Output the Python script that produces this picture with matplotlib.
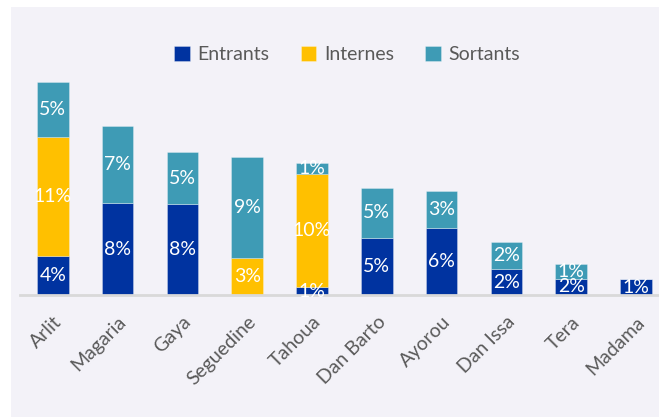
import matplotlib.pyplot as plt
from matplotlib.patches import Rectangle

# Data (percentages)
villes = ['Arlit', 'Magaria', 'Gaya', 'Seguedine', 'Tahoua', 'Dan Barto',
          'Ayorou', 'Dan Issa', 'Tera', 'Madama']
entrants = [3.6, 8.4, 8.3, 0, 0.75, 5.2, 6.1, 2.4, 1.52, 1.45]
internes = [10.8, 0, 0, 3.4, 10.3, 0, 0, 0, 0, 0]
sortants = [5.0, 7.0, 4.7, 9.2, 0.95, 4.6, 3.4, 2.45, 1.36, 0]

series = ['Entrants', 'Internes', 'Sortants']
colors = ['#0033A0', '#FFC000', '#3E9BB5']
bg = '#F3F2F8'

plt.rcParams['font.family'] = ['Lato', 'DejaVu Sans']

fig = plt.figure(figsize=(6.59, 4.17), dpi=100, facecolor='white')
fig.patches.append(Rectangle((11 / 659, 0), 1, 410 / 417, transform=fig.transFigure,
                             facecolor=bg, edgecolor='none', zorder=-10))

# axes reaches past the right edge, like the cropped original
ax = fig.add_axes([20.4 / 659, (417 - 295.3) / 417, 648 / 659, 220 / 417])
ax.set_facecolor('none')

x = range(len(villes))
bottom = [0] * len(villes)
for name, vals, col in zip(series, [entrants, internes, sortants], colors):
    ax.bar(x, vals, width=0.49, bottom=bottom, color=col, label=name,
           edgecolor='#FFFFFF55', linewidth=0.6)
    for i, v in enumerate(vals):
        if v > 0:
            ax.text(i, bottom[i] + v / 2, f'{v:.0f}%', ha='center', va='center',
                    color='white', fontsize=14)
    bottom = [b + v for b, v in zip(bottom, vals)]

ax.set_xlim(-0.5, 9.5)
ax.set_ylim(0, 20)
ax.set_yticks([])
ax.set_xticks(list(x))
ax.set_xticklabels(villes, rotation=45, ha='right', rotation_mode='anchor',
                   fontsize=14, color='#595959')
ax.tick_params(axis='x', length=0, pad=13)
for s in ['top', 'right', 'left']:
    ax.spines[s].set_visible(False)
ax.spines['bottom'].set_color('#D9D9D9')
ax.spines['bottom'].set_linewidth(2)

fig.legend(loc='center', bbox_to_anchor=(347 / 659, 1 - 54.7 / 417), ncol=3,
           frameon=False, fontsize=14, handlelength=0.8, handleheight=0.8,
           handletextpad=0.4, columnspacing=1.6, labelcolor='#595959')

fig.savefig('out.png', dpi=100, facecolor='white')
